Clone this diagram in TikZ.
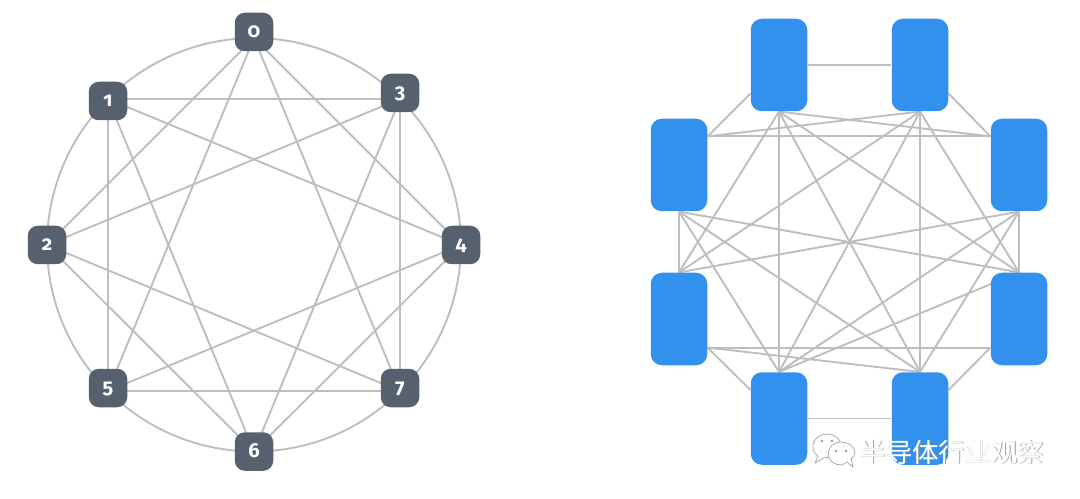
\documentclass[tikz,border=0pt]{standalone}
\usepackage{fontspec}
\setmainfont{Fira Sans}[Numbers=OldStyle]
\newfontfamily\cjk{Noto Sans CJK SC}
\usetikzlibrary{backgrounds}
\definecolor{slatebox}{HTML}{55616F}
\definecolor{chipblue}{HTML}{3391EE}
\definecolor{linkgray}{HTML}{BEBEBE}
\tikzset{
  box/.style={fill=slatebox,rounded corners=2mm,minimum size=7.7mm,inner sep=0pt,
    text=white,font=\fontsize{11.5pt}{11.5pt}\selectfont\bfseries,text height=2.3mm,text depth=0pt},
  chip/.style={fill=chipblue,rounded corners=2.2mm,minimum width=11.3mm,minimum height=18.5mm,inner sep=0pt},
  link/.style={draw=linkgray,line width=.38mm},
  bubble/.style={fill=white,draw=gray!70,line width=.15mm},
  eye/.style={fill=gray!80}
}
\begin{document}
\begin{tikzpicture}[x=.2mm,y=-.2mm]
  \useasboundingbox (0,0) rectangle (1080,499);
  % left: ring of eight numbered boxes
  \foreach \name/\x/\y in {0/254/32,1/108/101,2/47/245,3/400/93,4/461/245,5/108/388,6/254/451.5,7/400/388}
    \node[box] (n\name) at (\x,\y) {\name};
  \begin{scope}[on background layer]
    % ring
    \foreach \a/\ya/\b/\yb in {0/-1.2/1/.4,1/.4/2/0,2/0/5/-.6,5/-.6/6/0,6/0/7/-.6,7/-.6/4/0,4/0/3/-1.2,3/-1.2/0/-1.2}
      \draw[link] ([yshift=\ya mm]n\a.center) to[bend right=22.5,looseness=.89] ([yshift=\yb mm]n\b.center);
    % chords
    \foreach \a/\ya/\b/\yb in {0/-1.2/4/0,3/-1.2/7/-.6,4/0/6/0,7/-.6/5/-.6,6/0/2/0,5/-.6/1/.4,2/0/0/-1.2,1/.4/3/-1.2,
      0/-1.2/7/-.6,3/-1.2/6/0,4/0/5/-.6,7/-.6/2/0,6/0/1/.4,5/-.6/0/-1.2,2/0/3/-1.2,1/.4/4/0}
      \draw[link] ([yshift=\ya mm]n\a.center) -- ([yshift=\yb mm]n\b.center);
  \end{scope}
  % right: eight chips, all linked
  \node[chip] (c1) at (779,65) {};
  \node[chip] (c2) at (920,65) {};
  \node[chip] (c3) at (1019,165) {};
  \node[chip] (c4) at (1019,319) {};
  \node[chip] (c5) at (920,418.5) {};
  \node[chip] (c6) at (779,418.5) {};
  \node[chip] (c7) at (679,319) {};
  \node[chip] (c8) at (679,165) {};
  \begin{scope}[on background layer]
    \foreach \a/\b in {c1.east/c2.west,c2.-45/c3.135,c3.south/c4.north,c4.225/c5.45,
      c5.west/c6.east,c6.135/c7.-45,c7.north/c8.south,c8.45/c1.225,
      c1.south/c3.135,c1.south/c4.north,c1.south/c5.north,c1.south/c6.north,c1.south/c7.north,
      c2.south/c4.north,c2.south/c5.north,c2.south/c6.north,c2.south/c7.north,c2.south/c8.45,
      c3.south/c5.north,c3.south/c6.north,c3.south/c7.north,c3.135/c8.45,
      c4.north/c6.north,c4.225/c7.-45,c4.north/c8.south,
      c5.north/c7.-45,c5.north/c8.south,c6.north/c8.south}
      \draw[link] (\a) -- (\b);
  \end{scope}
  % watermark
  \draw[bubble] (818,456) -- (815,463) -- (824,458) to[out=10,in=-90] (841,446)
    to[out=90,in=0] (827,434) to[out=180,in=90] (813,446) to[out=-90,in=150] (818,456);
  \fill[eye] (822,441) circle (1.3) (832,441) circle (1.3);
  \draw[bubble] (847,462) -- (853,467) -- (851,459) to[out=50,in=-90] (855,453)
    to[out=90,in=0] (841,442) to[out=180,in=90] (828,454) to[out=-90,in=180] (841,465) to[out=0,in=200] (847,462);
  \fill[eye] (836,451) circle (1.3) (846,451) circle (1.3);
  \node[text=gray!75,font=\cjk\fontsize{15pt}{15pt}\selectfont] (marksh) at (952.6,452.6) {半导体行业观察};
  \node[text=white,font=\cjk\fontsize{15pt}{15pt}\selectfont] (mark) at (952,452) {半导体行业观察};
\end{tikzpicture}
\end{document}
